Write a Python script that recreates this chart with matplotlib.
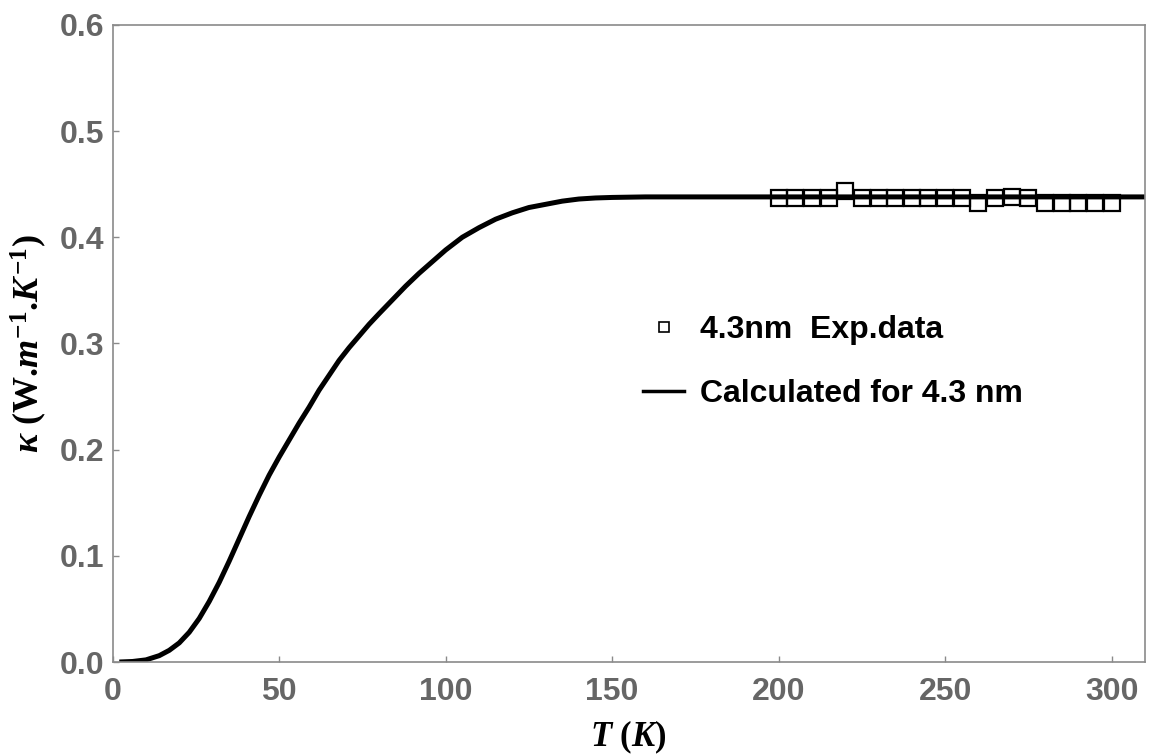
import matplotlib
matplotlib.use("Agg")
import matplotlib.pyplot as plt
from matplotlib.lines import Line2D

# Calculated curve
T_calc = [2, 6, 10, 14, 17, 20, 23, 26, 29, 32, 35, 38, 41, 44, 47, 50, 53, 56,
          59, 62, 65, 68, 71, 74, 77, 80, 84, 88, 92, 96, 100, 105, 110, 115,
          120, 125, 130, 135, 140, 145, 150, 160, 175, 200, 250, 310]
k_calc = [0.0, 0.0005, 0.002, 0.006, 0.011, 0.018, 0.028, 0.041, 0.057, 0.075,
          0.095, 0.116, 0.137, 0.157, 0.176, 0.193, 0.209, 0.225, 0.240, 0.256,
          0.270, 0.284, 0.296, 0.307, 0.318, 0.328, 0.341, 0.354, 0.366, 0.377,
          0.388, 0.400, 0.409, 0.417, 0.423, 0.428, 0.431, 0.434, 0.436, 0.437,
          0.4375, 0.438, 0.438, 0.438, 0.438, 0.438]

# Experimental data, 4.3 nm
T_exp = [200, 205, 210, 215, 220, 225, 230, 235, 240, 245, 250, 255, 260, 265,
         270, 275, 280, 285, 290, 295, 300]
k_exp = [0.437, 0.437, 0.437, 0.437, 0.444, 0.437, 0.437, 0.437, 0.437, 0.437,
         0.437, 0.437, 0.432, 0.437, 0.438, 0.437, 0.432, 0.432, 0.432, 0.432,
         0.432]

x_ticks = [0, 50, 100, 150, 200, 250, 300]
y_ticks = [0.0, 0.1, 0.2, 0.3, 0.4, 0.5, 0.6]

plt.rcParams['mathtext.fontset'] = 'custom'
plt.rcParams['mathtext.rm'] = 'Liberation Serif:bold'
plt.rcParams['mathtext.it'] = 'Liberation Serif:bold:italic'
plt.rcParams['mathtext.bf'] = 'Liberation Serif:bold'

fig = plt.figure(figsize=(11.53, 7.54), dpi=100)
ax = fig.add_axes([0.0977, 0.122, 0.8953, 0.845])

ax.plot(T_calc, k_calc, color='black', lw=3.6, solid_capstyle='butt',
        solid_joinstyle='round')
ax.plot(T_exp, k_exp, linestyle='none', marker='s', markersize=11.5,
        markerfacecolor='none', markeredgecolor='black', markeredgewidth=1.6)

ax.set_xlim(0, 310)
ax.set_ylim(0, 0.6)
ax.set_xticks(x_ticks)
ax.set_yticks(y_ticks)
ax.set_xticklabels([str(v) for v in x_ticks])
ax.set_yticklabels([f"{v:.1f}" for v in y_ticks])

for s in ax.spines.values():
    s.set_color('#8a8a8a')
    s.set_linewidth(1.2)
ax.tick_params(direction='in', length=4, width=1, color='#8a8a8a',
               labelcolor='#666666', labelsize=23, pad=6)
ax.tick_params(axis='x', pad=11)
for lab in ax.get_xticklabels() + ax.get_yticklabels():
    lab.set_fontfamily('Liberation Sans')
    lab.set_fontweight('bold')

ax.set_xlabel(r'$T$ ($K$)', fontsize=25, labelpad=8,
              fontfamily='Liberation Serif', fontweight='bold')
ax.set_ylabel(r'$\kappa$ (W.$m^{-1}$.$K^{-1}$)', fontsize=26, labelpad=8,
              fontfamily='Liberation Serif', fontweight='bold')

handles = [Line2D([], [], linestyle='none', marker='s', markersize=7,
                  markerfacecolor='none', markeredgecolor='black', markeredgewidth=1.2),
           Line2D([], [], color='black', lw=2.5)]
leg = ax.legend(handles, ['4.3nm  Exp.data', 'Calculated for 4.3 nm'],
                loc='upper left', bbox_to_anchor=(0.5137, 0.544), frameon=False,
                prop={'family': 'Liberation Sans', 'weight': 'bold', 'size': 23},
                handlelength=1.3, handletextpad=0.5, labelspacing=1.06,
                borderpad=0, borderaxespad=0)

fig.savefig('out.png', dpi=100)
